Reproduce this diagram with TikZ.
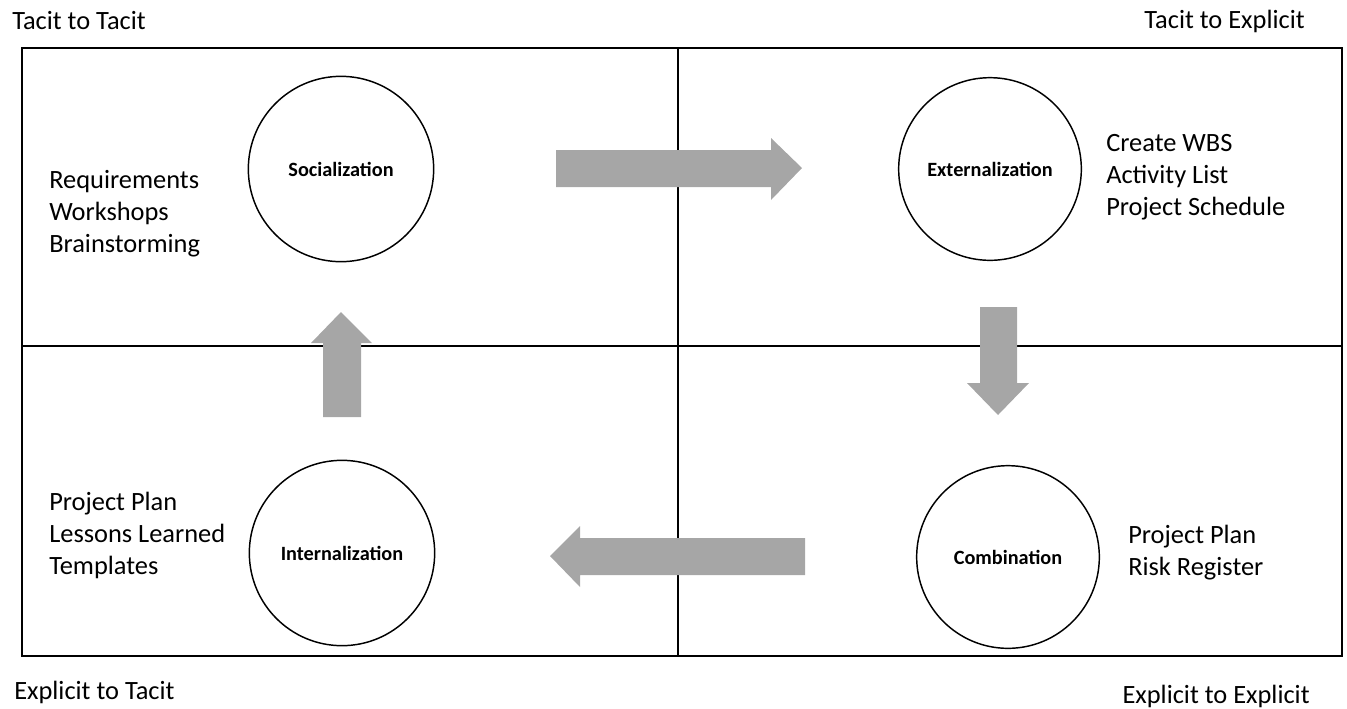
\documentclass[tikz,border=0pt]{standalone}
\usepackage{fontspec}
\setmainfont{Carlito}
\begin{document}
\begin{tikzpicture}[x=0.75pt,y=-0.75pt,
  grid/.style={draw=black,line width=1pt},
  phase/.style={circle,draw=black,line width=1.1pt,minimum size=138pt,inner sep=0pt,
    font=\fontsize{15.2}{18}\selectfont\bfseries},
  items/.style={anchor=west,align=left,inner sep=0pt,font=\fontsize{19.8}{24}\selectfont},
  corner/.style={inner sep=0pt,font=\fontsize{19.8}{24}\selectfont},
  blockarrow/.style={fill={rgb,255:red,166;green,166;blue,166},draw=none}]
\useasboundingbox (0,0) rectangle (1347,708);

% quadrant grid
\draw[grid] (22,48) rectangle (1342,656);
\draw[grid] (678,48) -- (678,656);
\draw[grid] (22,346) -- (1342,346);

% corner captions
\node[corner,anchor=west] (tt) at (12,21) {Tacit to Tacit};
\node[corner,anchor=east] (te) at (1305,21) {Tacit to Explicit};
\node[corner,anchor=west] (et) at (14,692) {Explicit to Tacit};
\node[corner,anchor=east] (ee) at (1310,696) {Explicit to Explicit};

% the four conversion modes
\node[phase,minimum size=139pt] (soc) at (341,169) {Socialization};
\node[phase,minimum size=137pt] (ext) at (990,169) {Externalization};
\node[phase,minimum size=137pt] (com) at (1008,557) {Combination};
\node[phase,minimum size=139pt] (int) at (342,553) {Internalization};

% activities per quadrant
\node[items] (socitems) at (49,214) {Requirements\\Workshops\\Brainstorming};
\node[items] (extitems) at (1106,177) {Create WBS\\Activity List\\Project Schedule};
\node[items] (comitems) at (1128,553) {Project Plan\\Risk Register};
\node[items] (intitems) at (49,535) {Project Plan\\Lessons Learned\\Templates};

% block arrows of the knowledge cycle
\fill[blockarrow] (556,150) -- (771,150) -- (771,138) -- (802,168) -- (771,200) -- (771,187) -- (556,187) -- cycle;
\fill[blockarrow] (980,307) -- (1017,307) -- (1017,383) -- (1029,383) -- (998,415) -- (967,383) -- (980,383) -- cycle;
\fill[blockarrow] (805,538) -- (580,538) -- (580,526) -- (550,556) -- (580,587) -- (580,575) -- (805,575) -- cycle;
\fill[blockarrow] (323,417) -- (323,343) -- (311,343) -- (341,312) -- (372,343) -- (361,343) -- (361,417) -- cycle;
\end{tikzpicture}
\end{document}
